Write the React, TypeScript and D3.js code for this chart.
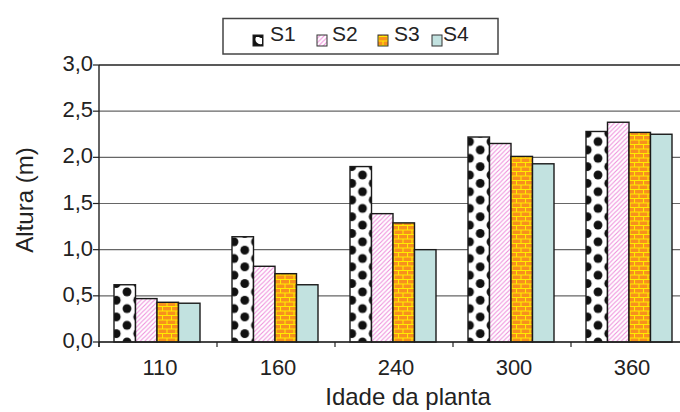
import React from "react";
import * as d3 from "d3";

const categories = ["110", "160", "240", "300", "360"];
const series = ["S1", "S2", "S3", "S4"];
const S1 = [0.62, 1.14, 1.9, 2.22, 2.28];
const S2 = [0.47, 0.82, 1.39, 2.15, 2.38];
const S3 = [0.43, 0.74, 1.29, 2.01, 2.27];
const S4 = [0.42, 0.62, 1.0, 1.93, 2.25];
const yTicks = [0, 0.5, 1.0, 1.5, 2.0, 2.5, 3.0];
const values = [S1, S2, S3, S4];

const W = 680, H = 412;
const FONT = "'Liberation Sans', Arial, sans-serif";

export default function App() {
  const left = 99, top = 65, bottom = 342;
  const x0 = d3.scaleBand<string>().domain(categories).range([left, left + 118 * 5]).padding(0);
  const x1 = d3.scaleBand<string>().domain(series).range([15, 101]).padding(0);
  const y = d3.scaleLinear().domain([0, 3]).range([bottom, top]);
  const fmt = (v: number) => d3.format(".1f")(v).replace(".", ",");
  const bw = x1.bandwidth();
  const fills = ["", "url(#hatch)", "url(#brick)", "#c2e2e0"];
  const legendX = [253, 317, 378, 432];
  const legendTX = [270, 332, 394, 443];

  return (
    <div style={{ position: "fixed", left: 0, top: 0 }}>
      <svg width={W} height={H} style={{ display: "block", background: "#fff" }} fontFamily={FONT}>
        <defs>
          {categories.map((c, i) => (
            <pattern key={c} id={`dots${i}`} patternUnits="userSpaceOnUse"
              x={(x0(c) as number) + (x1("S1") as number)} y={bottom} width={bw} height={16.7}>
              <rect width={bw} height={16.7} fill="#fff" />
              {[[0, 0], [bw, 0], [0, 16.7], [bw, 16.7], [bw / 2, 8.35]].map(([cx, cy], k) => (
                <circle key={k} cx={cx} cy={cy} r={4.4} fill="#111" />
              ))}
            </pattern>
          ))}
          <pattern id="hatch" patternUnits="userSpaceOnUse" width={4.5} height={4.5}>
            <rect width={4.5} height={4.5} fill="#fff" />
            <path d="M0,4.5 L4.5,0 M-1,1 L1,-1 M3.5,5.5 L5.5,3.5" stroke="#ef8fdc" strokeWidth={1.1} />
          </pattern>
          <pattern id="brick" patternUnits="userSpaceOnUse" width={9} height={9} y={bottom}>
            <rect width={9} height={9} fill="#f7901e" />
            <path d="M0,0.5 H9 M0,5 H9 M0.5,0 V4.5 M5,4.5 V9" stroke="#ffec00" strokeWidth={1.1} />
          </pattern>
        </defs>

        {/* gridlines */}
        {yTicks.map((t) => (
          <line key={t} x1={left} x2={W} y1={y(t)} y2={y(t)}
            stroke={t === 3 ? "#222" : "#666"} strokeWidth={t === 3 ? 1.6 : 1.2} />
        ))}

        {/* bars */}
        {categories.map((c, i) => (
          <g key={c} transform={`translate(${x0(c)},0)`}>
            {series.map((s, j) => {
              const v = values[j][i];
              return (
                <rect key={s} x={x1(s)} y={y(v)} width={bw} height={bottom - y(v)}
                  fill={j === 0 ? `url(#dots${i})` : fills[j]} stroke="#1a1a1a" strokeWidth={1.4} />
              );
            })}
          </g>
        ))}

        {/* axes */}
        <line x1={left} x2={W} y1={bottom} y2={bottom} stroke="#222" strokeWidth={1.6} />
        <line x1={left} x2={left} y1={top} y2={bottom + 5} stroke="#222" strokeWidth={1.4} />
        {yTicks.map((t) => (
          <g key={t}>
            <line x1={left - 6} x2={left} y1={y(t)} y2={y(t)} stroke="#222" strokeWidth={1.2} />
            <text x={left - 6} y={y(t) + 6} textAnchor="end" fontSize={22} fill="#222">{fmt(t)}</text>
          </g>
        ))}
        {categories.map((c) => (
          <g key={c}>
            <line x1={x0(c)} x2={x0(c)} y1={bottom} y2={bottom + 5} stroke="#222" strokeWidth={1.2} />
            <text x={(x0(c) as number) + x0.bandwidth() / 2 + 2} y={375} textAnchor="middle" fontSize={22} fill="#222">{c}</text>
          </g>
        ))}
        <text x={408} y={405} textAnchor="middle" fontSize={24} fill="#222">Idade da planta</text>
        <text transform="translate(33,200) rotate(-90)" textAnchor="middle" fontSize={24} fill="#222">Altura (m)</text>

        {/* legend */}
        <rect x={223} y={18.5} width={275} height={35.5} fill="#fff" stroke="#444" strokeWidth={1.5} />
        {series.map((s, j) => (
          <g key={s}>
            {j === 0 ? (
              <g>
                <rect x={legendX[j]} y={35} width={10} height={11} fill="#111" stroke="#222" strokeWidth={1} />
                <path d={`M${legendX[j] + 3},${35 + 2} A5,5 0 0,0 ${legendX[j] + 9},${35 + 9} L${legendX[j] + 9},${35 + 3} A3,3 0 0,1 ${legendX[j] + 6},${35 + 2} Z`} fill="#fff" />
              </g>
            ) : (
              <rect x={legendX[j]} y={35} width={10} height={11} fill={fills[j]} stroke="#333" strokeWidth={1} />
            )}
            <text x={legendTX[j]} y={41} fontSize={21} fill="#222">{s}</text>
          </g>
        ))}
      </svg>
    </div>
  );
}
